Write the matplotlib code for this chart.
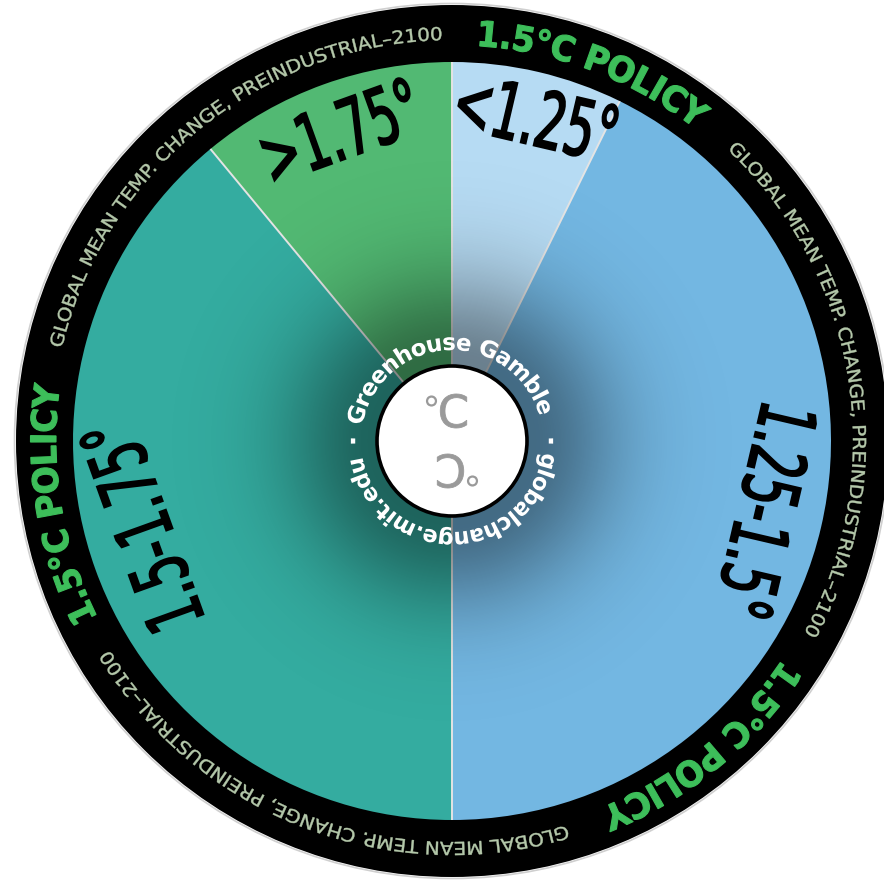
import numpy as np
import matplotlib.pyplot as plt
from matplotlib.patches import Wedge, Circle, PathPatch
from matplotlib.textpath import TextPath
from matplotlib.font_manager import FontProperties
from matplotlib.path import Path
from matplotlib.transforms import Affine2D

# warming bands (share of outcomes, %) for the 1.5C policy wheel
labels = ["<1.25°", "1.25-1.5°", "1.5-1.75°", ">1.75°"]
shares = [7.3, 42.7, 39.0, 11.0]
colors = ["#b6dbf3", "#73b7e2", "#34aca0", "#52b973"]

ring_title = "1.5°C POLICY"
ring_caption = "GLOBAL MEAN TEMP. CHANGE, PREINDUSTRIAL–2100"
hub_top = "Greenhouse Gamble"
hub_bottom = "globalchange.mit.edu"

cx, cy = 452, 443
R_PIE, R_RING, R_HUB = 379, 436, 75


def polar(r, ang):
    # ang in degrees, clockwise from 12 o'clock
    a = np.radians(ang)
    return cx + r * np.sin(a), cy + r * np.cos(a)


def arc_text(ax, s, r, center, span, size, color, weight="normal", edge=0):
    # bend the glyph outlines round a circle, reading clockwise
    fp = FontProperties(family="DejaVu Sans", weight=weight)
    tp = TextPath((0, 0), s, size=size, prop=fp)
    v = tp.vertices
    ext = tp.get_extents()
    w = ext.x1 - ext.x0
    k = np.radians(span) * r / w
    x = (v[:, 0] - ext.x0 - w / 2) * k
    th = np.radians(center) + x / r
    rho = r + v[:, 1]
    nv = np.column_stack([cx + rho * np.sin(th), cy + rho * np.cos(th)])
    ax.add_patch(PathPatch(Path(nv, tp.codes), fc=color, ec=color if edge else "none",
                           lw=edge, zorder=6))


def flat_text(ax, s, xy, rot, size, color, xscale=1.0, weight="normal", z=7, edge=0):
    fp = FontProperties(family="DejaVu Sans", weight=weight)
    tp = TextPath((0, 0), s, size=size, prop=fp)
    ext = tp.get_extents()
    tr = (Affine2D().translate(-(ext.x0 + ext.x1) / 2, -(ext.y0 + ext.y1) / 2)
          .scale(xscale, 1).rotate_deg(rot).translate(*xy))
    ax.add_patch(PathPatch(tr.transform_path(tp), fc=color, ec=color if edge else "none",
                           lw=edge, zorder=z))


fig = plt.figure(figsize=(8.84, 8.84), dpi=100)
ax = fig.add_axes([0, 0, 1, 1])
ax.set_xlim(0, 884)
ax.set_ylim(0, 884)
ax.set_aspect("equal")
ax.axis("off")

# black outer ring
ax.add_patch(Circle((cx, cy), R_RING + 1.5, fc="none", ec="#cfcfcf", lw=1.2, zorder=0))
ax.add_patch(Circle((cx, cy), R_RING, fc="black", ec="none", zorder=1))

# slices, clockwise from the top
edges = np.concatenate([[0], np.cumsum(shares)]) * 3.6
for a0, a1, c in zip(edges[:-1], edges[1:], colors):
    ax.add_patch(Wedge((cx, cy), R_PIE, 90 - a1, 90 - a0, fc=c, ec="none", zorder=2))
for a in edges[:-1]:
    x1, y1 = polar(R_PIE, a)
    ax.plot([cx, x1], [cy, y1], color="#e4e4e4", lw=1.4, zorder=3, solid_capstyle="butt")

# dark halo around the hub
g = np.linspace(-R_PIE, R_PIE, 700)
gx, gy = np.meshgrid(g, g)
rr = np.hypot(gx, gy)
alpha = 0.42 * np.exp(-((np.clip(rr - R_HUB, 0, None)) / 95.0) ** 2)
halo = np.zeros(rr.shape + (4,))
halo[..., 3] = alpha
im = ax.imshow(halo, extent=(cx - R_PIE, cx + R_PIE, cy - R_PIE, cy + R_PIE),
               origin="lower", zorder=4, interpolation="bilinear")
im.set_clip_path(Circle((cx, cy), R_PIE, transform=ax.transData))

# band labels, tops facing outward
label_r = [335, 322, 322, 330]
label_nudge = [1.5, -0.5, 4.5, 0.0]
for lab, a0, a1, r, dn in zip(labels, edges[:-1], edges[1:], label_r, label_nudge):
    mid = (a0 + a1) / 2
    flat_text(ax, lab, polar(r, mid + dn), -mid, 78, "black", xscale=0.6, edge=1.5)

# ring lettering, repeated three times
for k in range(3):
    arc_text(ax, ring_title, 396, 21 + 120 * k, 34, 35, "#3dbe5a", weight="bold", edge=0.8)
    arc_text(ax, ring_caption, 401, 81 + 120 * k, 75, 18, "#b4c8aa", edge=0.3)

# hub: white disc with an upright and an inverted degree sign
ax.add_patch(Circle((cx, cy), R_HUB, fc="white", ec="black", lw=2.6, zorder=8))
for rot, sgn in ((0, 1), (180, -1)):
    flat_text(ax, "C", (cx + 1.5 * sgn, cy + 30 * sgn), rot, 45, "#9a9a9a", z=9, edge=0.6)
    flat_text(ax, "°", (cx - 20.5 * sgn, cy + 40 * sgn), rot, 36, "#9a9a9a", z=9)
arc_text(ax, hub_top, 91, -3, 153, 23, "white", weight="bold")
arc_text(ax, hub_bottom, 91, 178.5, 161, 23, "white", weight="bold")
for a in (90, 270):
    arc_text(ax, "·", 91, a, 3, 23, "white", weight="bold")

fig.savefig("out.png", dpi=100)
